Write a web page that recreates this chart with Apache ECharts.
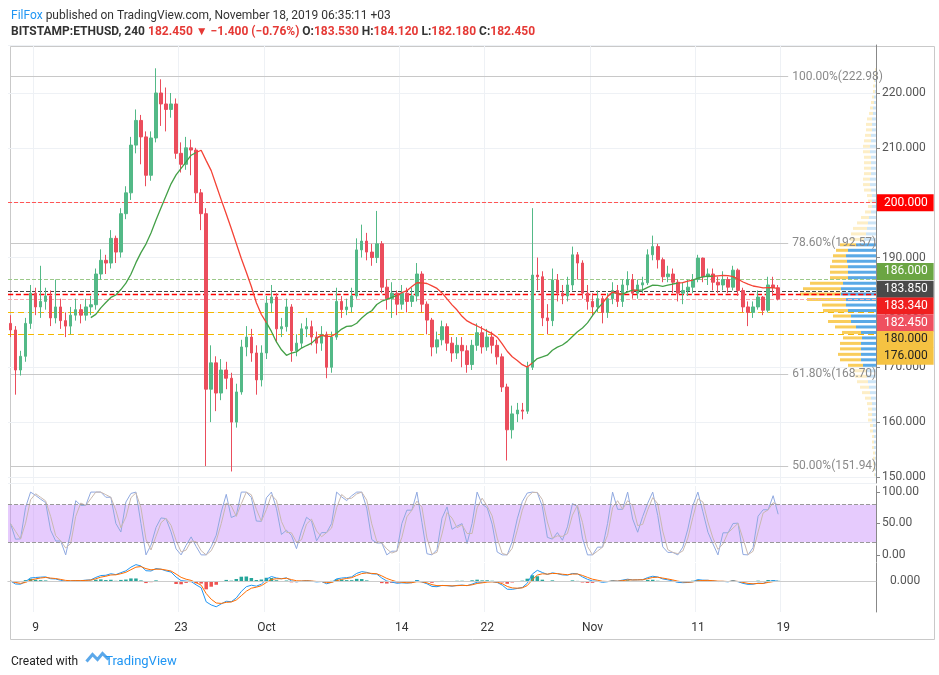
<!DOCTYPE html>
<html><head><meta charset="utf-8">
<script src="https://cdn.jsdelivr.net/npm/echarts@6/dist/echarts.min.js"></script>
<style>html,body{margin:0;padding:0;background:#fff}#c{width:939px;height:675px}</style>
</head><body><div id="c"></div>
<script>
// 12h candles, Sep 6 – Nov 18 2019
var firstOpen = 178;
var closes = [176.8,169.5,172,178,183.5,181,182,183,179,181,178.5,177.5,179.5,180.5,179.5,181,181.4,187,189.5,189,193.5,191,198,201.8,210.5,215,212,205,211.8,220,218,217,218,209,207,210,209.6,201.8,198,166,170.8,165.3,169.5,168,160,165.5,173.7,175.5,172.6,167.7,172.6,181.7,182.8,177,177.4,181,173,174.4,177,177.4,175.5,174.4,176,170,175.5,182,180.5,181,183,191.4,193,191,190,192.5,184.6,182.5,183.5,181.5,183.5,182,183,187,181.5,178.6,173.7,175,177.4,174.4,172.6,174,173,170.5,174,176.3,173.7,175.5,174,171.9,166.4,158.6,161.5,162.2,162,170,186.8,186.5,179,178.5,185.9,183.5,183,185,190.5,189,183.5,182,181,182.5,180,182.5,184,182,185,186,183.5,185,185.4,190.5,192,189.6,186.5,187,185.5,183.5,184,184.6,186,189.9,186.5,187,185.5,185,186,184.6,187.7,184,181,180,181,182.8,180.4,185,184.5,182.45];
var highs = [179.5,177.5,173,179,185,184.5,188.5,184.5,184,186,182.5,180,181,182.5,181.5,182.5,183,188,191.5,190.5,195,194,199,203,212,217,216,213,213,224.5,222.5,221,220,219,211,212,211.5,210,202.5,199,174,172,171.5,171,169,167,175,177.5,177,174,174,183,185,183.5,179,182.5,181.5,176,178,179,178.5,176.5,177.5,176.5,176.5,184.5,183,182.5,184.5,193.5,196,194.5,192.5,198.5,193,186,185.5,184,185,184.5,184.5,189,187.5,182,179,176.5,178.5,178,175.5,175.5,175.5,174,175,178,177.5,177,176.5,175,172.5,167,163,163.5,163.5,171,199,190,187.5,181.5,188,187,185,186.5,192,191,189.5,185,183.5,184,183,183.5,185.5,185,186,187.5,187,186,186.5,191.5,194,192.5,190,188.5,188,186,185.5,186,187,190.5,190,188,188,186.5,187.5,186.5,188.5,188,184.5,182,182,184,183,186.5,186.5,185];
var lows = [175.5,165,168.5,171,177,179.5,179,180.5,177.5,178,177,175.5,176,178.5,178,178.5,179.5,180.5,186,187,188,189,190,197,200.5,209,207,203,204,211,214,213,215.5,208,205.5,206,205,200,195,152,160,162,164,166,151,159,165,172,171,165,166.5,171.5,180,174.5,175.5,176.5,171,172,173.5,175.5,174,172.5,173,168,169,175,179,179.5,180,182.5,190,189.5,188.5,189,183.5,180.5,179,179.5,180.5,180,181,182,180,176,172,172.5,174,173,171,171.5,170,169,169.5,173,172.5,173,172.5,170.5,165.5,153,157,160,160.5,161.5,169.5,184,177.5,176,177.5,182,181.5,182,184,186,182.5,180.5,179.5,180,178,179,181.5,181,181,184,182.5,182.5,183.5,185,189.5,188,185.5,185.5,183.5,182,181.5,183,183.5,185.5,185.5,185,184,183.5,184,183.5,184,183,180,177.5,179,180.5,179.5,180,183,182.2];
var totalSlots = 173;
var tickIndex = [5,34,51,78,95,116,137,154];
var tickText = ['9','23','Oct','14','22','Nov','11','19'];
var fibLevels = [222.98,192.57,168.70,151.94];
var fibNames = ['100.00%(222.98)','78.60%(192.57)','61.80%(168.70)','50.00%(151.94)'];
var tagValues = [200.000,186.000,183.850,183.340,182.450,180.000,176.000];
var tagColors = ['#ff0000','#6ba543','#4a4a4a','#f01f1f','#ef5060','#f5c242','#f5c242'];
var tagText = ['#fff','#fff','#fff','#fff','#fff','#222','#222'];
var tagLine = ['dashedRed','green','dark','red','pink','dashedOrange','dashedOrange'];
var tagLabelShift = [0,-8,-2,12,24,27,22];
// volume profile, 1-unit price rows from 149 to 228 (widths read in px-like units)
var profileLevels = [149,150,151,152,153,154,155,156,157,158,159,160,161,162,163,164,165,166,167,168,169,170,171,172,173,174,175,176,177,178,179,180,181,182,183,184,185,186,187,188,189,190,191,192,193,194,195,196,197,198,199,200,201,202,203,204,205,206,207,208,209,210,211,212,213,214,215,216,217,218,219,220,221,222,223,224,225,226,227,228];
var profileUp   = [0,1,1,1,1,1,2,2,2,3,3,4,4,4,4,5,6,7,8,9,10,13,15,15,15,15,14,15,20,25,25,28,30,30,35,35,33,28,28,28,29,30,28,20,12,10,9,8,7,5,4,4,4,5,6,6,5,5,5,5,6,6,5,5,4,4,4,3,3,2,2,1,1,1,0,0,0,0,0,0];
var profileDown = [0,1,2,2,2,2,2,2,2,3,3,4,4,4,5,6,8,9,11,12,13,15,21,23,21,21,19,19,21,23,18,25,24,39,41,38,33,18,18,18,15,13,12,16,14,15,14,11,8,6,4,4,5,7,7,7,7,7,7,7,7,7,7,6,6,6,5,4,3,3,2,2,2,1,1,1,0,0,0,0];
var maPeriod = 17;

var cats=[]; for(var i=0;i<totalSlots;i++){cats.push(i);}
var candle=[];
for(var i=0;i<closes.length;i++){var o=i?closes[i-1]:firstOpen;candle.push([o,closes[i],lows[i],highs[i]]);}
var ma=[];for(var i=0;i<closes.length;i++){if(i<maPeriod-1){ma.push(null);continue;}var s=0;for(var j=i-maPeriod+1;j<=i;j++)s+=closes[j];ma.push(s/maPeriod);}
var maG=[],maR=[];
for(var i=0;i<closes.length;i++){
  if(ma[i]==null){maG.push(null);maR.push(null);continue;}
  var up=closes[i]>=ma[i];
  var prevUp=i>0&&ma[i-1]!=null?closes[i-1]>=ma[i-1]:up;
  maG.push(up||prevUp?ma[i]:null); maR.push(!up||!prevUp?ma[i]:null);
}
function rsi(arr,p){var out=[];var g=0,l=0;for(var i=0;i<arr.length;i++){if(i==0){out.push(50);continue;}var d=arr[i]-arr[i-1];var up=d>0?d:0,dn=d<0?-d:0;if(i<=p){g+=up/p;l+=dn/p;}else{g=(g*(p-1)+up)/p;l=(l*(p-1)+dn)/p;}out.push(l==0?100:100-100/(1+g/l));}return out;}
function sma(arr,p){var o=[];for(var i=0;i<arr.length;i++){var s=0,n=0;for(var j=Math.max(0,i-p+1);j<=i;j++){s+=arr[j];n++;}o.push(s/n);}return o;}
function ema(arr,p){var o=[],k=2/(p+1);for(var i=0;i<arr.length;i++)o.push(i?arr[i]*k+o[i-1]*(1-k):arr[i]);return o;}
var r=rsi(closes,5),st=[];
for(var i=0;i<r.length;i++){var mn=1e9,mx=-1e9;for(var j=Math.max(0,i-4);j<=i;j++){mn=Math.min(mn,r[j]);mx=Math.max(mx,r[j]);}st.push(mx>mn?(r[i]-mn)/(mx-mn)*100:50);}
var K=sma(st,2),D=sma(K,2);
var e1=ema(closes,4),e2=ema(closes,9),macd=e1.map(function(v,i){return v-e2[i];}),sig=ema(macd,3),hist=macd.map(function(v,i){return v-sig[i];});
var mAbs=0;macd.concat(sig).forEach(function(v){if(v>mAbs)mAbs=v;});
var macdMax=mAbs*1.1, macdMin=-macdMax*31/18;
var minM=Math.min.apply(null,macd);if(minM<macdMin){macdMin=minM*1.05;macdMax=-macdMin*18/31;}

var lineStyles={dashedRed:{color:'#f55',type:'dashed',width:1},green:{color:'#9cc98a',width:1},dark:{color:'#444',width:1},red:{color:'#f00',width:1.3},pink:{color:'#f7aab0',width:1},dashedOrange:{color:'#f5b800',type:[6,4],width:1.2}};
var tagLines=tagValues.map(function(v,i){return {yAxis:v,lineStyle:lineStyles[tagLine[i]],label:{show:true,position:'end',distance:1,offset:[0,tagLabelShift[i]],formatter:v.toFixed(3),backgroundColor:tagColors[i],color:tagText[i],padding:[3,6,2,7],fontSize:12,fontFamily:'Roboto'}};});
var fibLines=fibLevels.map(function(v,i){return [{coord:[0,v],lineStyle:{color:'#c8c8c8',width:1,type:'solid'},label:{show:true,position:'end',formatter:fibNames[i],color:'#8a8a8a',fontSize:12,distance:4}},{coord:[155,v]}];});
var inVA=function(p){return p>=170&&p<=192;};

var xShared={type:'category',data:cats,boundaryGap:true,axisLine:{show:false},axisTick:{show:false},axisLabel:{show:false},splitLine:{show:true,interval:function(i){return tickIndex.indexOf(i)>=0;},lineStyle:{color:'#eef1f5'}}};
var opt={
 animation:false,
 textStyle:{fontFamily:'Roboto'},
 title:[{left:6,top:5,text:'{b|FilFox} published on TradingView.com, November 18, 2019 06:35:11 +03',textStyle:{fontSize:12,fontWeight:'normal',color:'#333',rich:{b:{color:'#2196f3',fontSize:12}}}},
  {left:6,top:21,text:'{n|BITSTAMP:ETHUSD, 240 }{r|182.450 ▼ −1.400 (−0.76%)} {n|O:}{r|183.530} {n|H:}{r|184.120} {n|L:}{r|182.180} {n|C:}{r|182.450}',textStyle:{fontSize:12,rich:{n:{color:'#333',fontWeight:'bold',fontSize:12},r:{color:'#e53935',fontWeight:'bold',fontSize:12}}}},
  {left:6,top:650,text:'Created with {t|TradingView}',textStyle:{fontSize:12,fontWeight:'normal',color:'#222',rich:{t:{color:'#2196f3',fontSize:13,padding:[0,0,0,24]}}}}],
 graphic:[{type:'rect',left:8,top:44,shape:{width:924,height:593},style:{fill:'none',stroke:'#c9c9c9'}},
  {type:'polyline',left:84,top:651,shape:{points:[[0,10],[6,3],[11,8],[16,2],[22,8]]},style:{stroke:'#5ba8ea',lineWidth:3,fill:'none'}}],
 grid:[{left:8,right:63,top:45,height:438},
       {left:8,right:63,top:486,height:76},
       {left:8,right:63,top:563,height:49},
       {right:63,width:90,top:45,height:438}],
 xAxis:[Object.assign({gridIndex:0},xShared),Object.assign({gridIndex:1},xShared),
   Object.assign({},xShared,{gridIndex:2,axisLine:{show:true,lineStyle:{color:'#bbb'}},axisLabel:{show:true,interval:function(i){return tickIndex.indexOf(i)>=0;},formatter:function(v){var k=tickIndex.indexOf(+v);return k>=0?tickText[k]:'';},color:'#333',fontSize:12,margin:10}}),
   {gridIndex:3,type:'value',inverse:true,min:0,max:90,show:false}],
 yAxis:[{gridIndex:0,type:'value',position:'right',min:148.9,max:228.75,splitNumber:8,scale:true,axisLine:{show:true,lineStyle:{color:'#888'}},axisTick:{show:true,length:4,lineStyle:{color:'#888'}},axisLabel:{showMinLabel:false,showMaxLabel:false,formatter:function(v){return v.toFixed(3);},color:'#555',fontSize:12,margin:6},splitLine:{lineStyle:{color:'#eef1f5'}}},
  {gridIndex:1,type:'value',position:'right',min:-11.3,max:109.7,splitNumber:2,axisLine:{show:true,lineStyle:{color:'#888'}},axisTick:{show:true,length:4},axisLabel:{showMinLabel:false,showMaxLabel:false,formatter:function(v){return v.toFixed(2);},color:'#555',fontSize:12,margin:6},splitLine:{show:false}},
  {gridIndex:2,type:'value',position:'right',min:macdMin,max:macdMax,axisLine:{show:true,lineStyle:{color:'#888'}},axisTick:{show:false},axisLabel:{show:false},splitLine:{show:false}},
  {gridIndex:3,type:'category',data:profileLevels,show:false,boundaryGap:true}],
 series:[
  {type:'bar',xAxisIndex:3,yAxisIndex:3,stack:'vp',barWidth:'55%',data:profileUp.map(function(v,i){return {value:v,itemStyle:{color:inVA(profileLevels[i])?'#5aa9e6':'rgba(90,169,230,0.3)'}};}),z:1},
  {type:'bar',xAxisIndex:3,yAxisIndex:3,stack:'vp',barWidth:'55%',data:profileDown.map(function(v,i){return {value:v,itemStyle:{color:inVA(profileLevels[i])?'#f9cd5c':'rgba(249,205,92,0.35)'}};}),z:1},
  {type:'candlestick',xAxisIndex:0,yAxisIndex:0,data:candle,barWidth:'60%',z:5,itemStyle:{color:'#53b987',color0:'#eb4d5c',borderColor:'#53b987',borderColor0:'#eb4d5c'},
   markLine:{symbol:'none',silent:true,animation:false,data:tagLines.concat(fibLines)}},
  {type:'line',xAxisIndex:0,yAxisIndex:0,data:maG,showSymbol:false,connectNulls:false,lineStyle:{color:'#43a047',width:1.3},z:6},
  {type:'line',xAxisIndex:0,yAxisIndex:0,data:maR,showSymbol:false,connectNulls:false,lineStyle:{color:'#f44336',width:1.3},z:6},
  {type:'line',xAxisIndex:1,yAxisIndex:1,data:K,showSymbol:false,lineStyle:{color:'#8fa8e0',width:1},
   markArea:{silent:true,itemStyle:{color:'rgba(200,140,250,0.45)'},data:[[{yAxis:20},{yAxis:80}]]},
   markLine:{symbol:'none',silent:true,label:{show:false},lineStyle:{color:'#999',type:'dashed',width:1},data:[{yAxis:20},{yAxis:80}]}},
  {type:'line',xAxisIndex:1,yAxisIndex:1,data:D,showSymbol:false,lineStyle:{color:'#c8b8b0',width:1}},
  {type:'bar',xAxisIndex:2,yAxisIndex:2,data:hist.map(function(v){return {value:v,itemStyle:{color:v>=0?'#26a69a':'#ef5350'}};}),barWidth:'70%'},
  {type:'line',xAxisIndex:2,yAxisIndex:2,data:macd,showSymbol:false,lineStyle:{color:'#2196f3',width:1},
   markLine:{symbol:'none',silent:true,lineStyle:{color:'#ccc',width:1,type:'solid'},label:{show:true,position:'end',formatter:'0.000',color:'#555',fontSize:12,distance:14},data:[{yAxis:0}]}},
  {type:'line',xAxisIndex:2,yAxisIndex:2,data:sig,showSymbol:false,lineStyle:{color:'#ff6d00',width:1}}
 ]
};
var ch=echarts.init(document.getElementById('c'));ch.setOption(opt);
</script></body></html>
